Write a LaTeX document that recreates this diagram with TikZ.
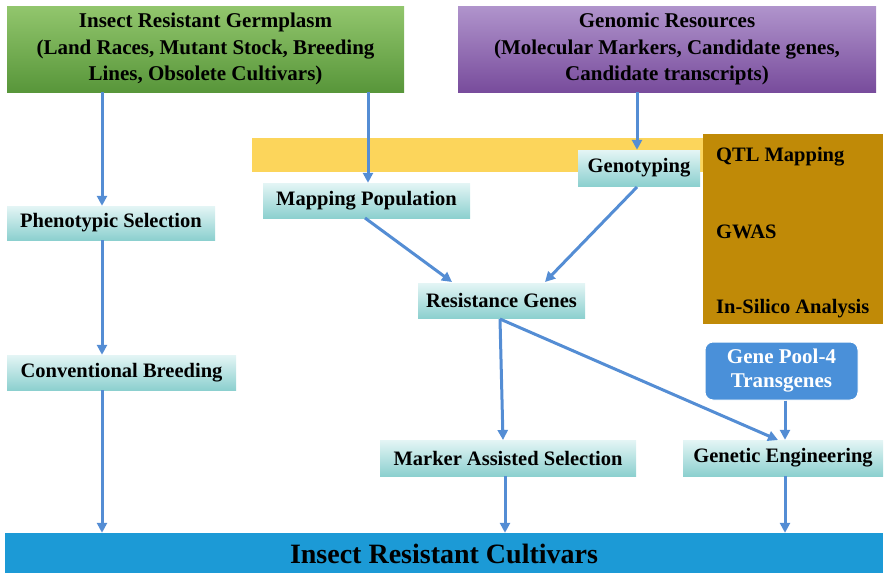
\documentclass[tikz,border=0pt]{standalone}
\usepackage{fontspec}
\setmainfont{Liberation Serif}
\usetikzlibrary{arrows.meta}
\definecolor{arrc}{RGB}{84,141,212}
\definecolor{tealtop}{RGB}{228,245,245}
\definecolor{tealbot}{RGB}{140,208,207}
\definecolor{greentop}{RGB}{146,198,109}
\definecolor{greenbot}{RGB}{88,150,58}
\definecolor{purptop}{RGB}{176,148,204}
\definecolor{purpbot}{RGB}{120,76,156}
\definecolor{bandc}{RGB}{252,213,91}
\definecolor{brownc}{RGB}{192,138,7}
\definecolor{poolc}{RGB}{74,144,217}
\definecolor{barc}{RGB}{28,154,214}
\tikzset{
  stepbox/.style={rectangle, inner sep=0pt, top color=tealtop, bottom color=tealbot,
    font=\bfseries\fontsize{20.5}{24}\selectfont},
  headbox/.style={rectangle, inner sep=0pt, align=center,
    font=\bfseries\fontsize{21}{26.5}\selectfont},
  arr/.style={draw=arrc, line width=3pt, -{Triangle[length=10pt,width=10pt]}},
  brtext/.style={anchor=west, inner sep=0pt, font=\bfseries\fontsize{20.5}{24}\selectfont},
}
\begin{document}
\begin{tikzpicture}[x=1pt,y=-1pt]
\useasboundingbox (0,0) rectangle (887,573);
% header boxes
\node[headbox, top color=greentop, bottom color=greenbot, minimum width=397pt, minimum height=86pt] (green) at (205.5,49)
  {Insect Resistant Germplasm\\(Land Races, Mutant Stock, Breeding\\Lines, Obsolete Cultivars)};
\node[headbox, top color=purptop, bottom color=purpbot, minimum width=418pt, minimum height=86pt] (purple) at (667,49)
  {Genomic Resources\\(Molecular Markers, Candidate genes,\\Candidate transcripts)};
% band and brown box
\node[rectangle, fill=bandc, inner sep=0pt, minimum width=453pt, minimum height=34pt] (band) at (478.5,155) {};
\node[rectangle, fill=brownc, inner sep=0pt, minimum width=180pt, minimum height=190pt] (brown) at (793,229) {};
\node[brtext] (qtl) at (716,157) {QTL Mapping};
\node[brtext] (gwas) at (716,232) {GWAS};
\node[brtext] (insil) at (716,309) {In-Silico Analysis};
% step boxes
\node[stepbox, minimum width=122pt, minimum height=36pt] (geno) at (639,168) {Genotyping};
\node[stepbox, minimum width=207pt, minimum height=35pt] (mapp) at (366.5,200.5) {Mapping Population};
\node[stepbox, minimum width=208pt, minimum height=34pt] (pheno) at (111,223) {Phenotypic Selection};
\node[stepbox, minimum width=229pt, minimum height=35pt] (conv) at (121.5,372.5) {Conventional Breeding};
\node[stepbox, minimum width=167pt, minimum height=35pt] (resist) at (501.5,300.5) {Resistance Genes};
\node[rectangle, rounded corners=8pt, fill=poolc, draw=white, line width=1pt, inner sep=0pt, align=center,
  text=white, font=\bfseries\fontsize{21}{24}\selectfont, minimum width=153pt, minimum height=58pt] (pool) at (781.5,371)
  {Gene Pool-4\\Transgenes};
\node[stepbox, minimum width=256pt, minimum height=36pt] (mas) at (508,458) {Marker Assisted Selection};
\node[stepbox, minimum width=200pt, minimum height=36pt] (ge) at (783,458) {Genetic Engineering};
\node[rectangle, fill=barc, inner sep=0pt, minimum width=878pt, minimum height=41pt,
  font=\bfseries\fontsize{28}{30}\selectfont] (bar) at (444,553.5) {Insect Resistant Cultivars};
% coordinates for vertical lines
\coordinate (xa) at (102,0);
\coordinate (xb) at (368,0);
\coordinate (xc) at (637,0);
\coordinate (xd) at (505,0);
\coordinate (xe) at (785,0);
\coordinate (rs) at (500,319);
\coordinate (mt) at (503,440);
\coordinate (gt) at (778,440);
\coordinate (ms) at (365,218);
\coordinate (me) at (452,282);
\coordinate (gs) at (637,187);
\coordinate (gend) at (545,282);
% arrows
\draw[arr] (green.south -| xa) -- (pheno.north -| xa);
\draw[arr] (pheno.south -| xa) -- (conv.north -| xa);
\draw[arr] (conv.south -| xa) -- (bar.north -| xa);
\draw[arr] (green.south -| xb) -- (mapp.north -| xb);
\draw[arr] (purple.south -| xc) -- (geno.north -| xc);
\draw[arr] (ms) -- (me);
\draw[arr] (gs) -- (gend);
\draw[arr] (rs) -- (mt);
\draw[arr] (rs) -- (gt);
\draw[arr] (pool.south -| xe) -- (ge.north -| xe);
\draw[arr] (mas.south -| xd) -- (bar.north -| xd);
\draw[arr] (ge.south -| xe) -- (bar.north -| xe);
\end{tikzpicture}
\end{document}
